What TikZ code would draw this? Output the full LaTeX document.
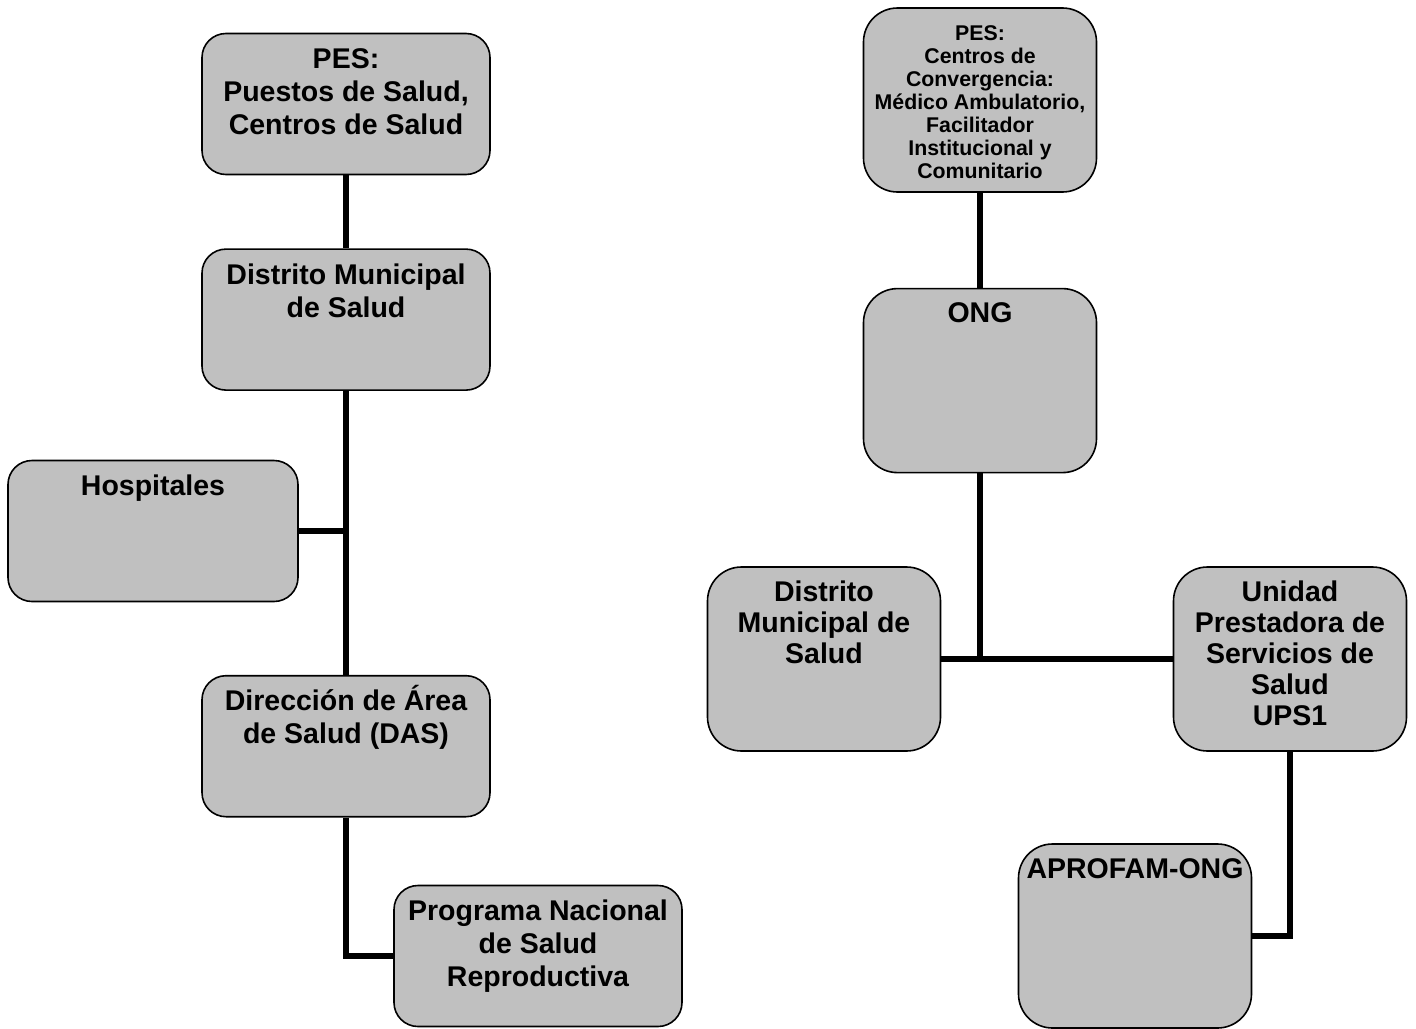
\documentclass[tikz,border=0pt]{standalone}
\usepackage{fontspec}
\setmainfont{Liberation Sans}
\usepackage{tikz}
\usetikzlibrary{positioning}
\definecolor{boxgray}{RGB}{192,192,192}
\tikzset{toptext/.style n args={3}{execute at begin node={\begin{minipage}[c][#2][t]{#1}\centering\rule{0pt}{#3}}, execute at end node={\end{minipage}}}, orgbase/.style={rectangle, draw=black, line width=1.6pt, fill=boxgray, inner sep=0pt}, orgwide/.style={orgbase, rounded corners=24pt, minimum width=288pt, minimum height=141pt, font=\bfseries\fontsize{28.5}{33}\selectfont, toptext={282pt}{141pt}{35pt}}, orgtall/.style={orgbase, rounded corners=34pt, minimum width=233pt, minimum height=184pt, font=\bfseries\fontsize{28.5}{31}\selectfont, toptext={229pt}{184pt}{34pt}}, orgsmall/.style={orgbase, rounded corners=34pt, minimum width=233pt, minimum height=184pt, font=\bfseries\fontsize{21.3}{23}\selectfont, toptext={229pt}{184pt}{32pt}}, link/.style={line width=5.5pt, draw=black}}

\begin{document}
\begin{tikzpicture}[x=1pt, y=-1pt]
\useasboundingbox (0,0) rectangle (1416,1028);
% left chart
\node[orgwide] (pesA) at (346,104) {PES:\\Puestos de Salud,\\Centros de Salud};
\node[orgwide, below=73pt of pesA] (dmsA) {Distrito Municipal\\de Salud};
\node[orgwide, minimum width=290pt] (hosp) at (153,531) {Hospitales};
\node[orgwide, below=284pt of dmsA] (das) {Direcci\'on de \'Area\\de Salud (DAS)};
\node[orgwide] (pnsr) at (538,956) {Programa Nacional\\de Salud\\Reproductiva};
% right chart
\node[orgsmall] (pesB) at (980,100) {PES:\\Centros de\\Convergencia:\\M\'edico Ambulatorio,\\Facilitador\\Institucional y\\Comunitario};
\node[orgtall, below=95pt of pesB] (ong) {ONG};
\node[orgtall] (dmsB) at (824,659) {Distrito\\Municipal de\\Salud};
\node[orgtall] (ups) at (1290,659) {Unidad\\Prestadora de\\Servicios de\\Salud\\UPS1};
\node[orgtall, minimum height=182pt] (aprofam) at (1135,936) {APROFAM-ONG};
\coordinate (junc) at (ong.south |- dmsB.east);
% connectors
\draw[link] (pesA.south)--(dmsA.north);
\draw[link] (dmsA.south)--(das.north);
\draw[link] (hosp.east)--(hosp.east -| dmsA.south);
\draw[link] (das.south) |- (pnsr.west);
\draw[link] (pesB.south)--(ong.north);
\draw[link] (ong.south)--(junc);
\draw[link] (dmsB.east)--(ups.west);
\draw[link] (ups.south) |- (aprofam.east);
\end{tikzpicture}
\end{document}
